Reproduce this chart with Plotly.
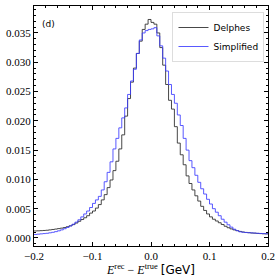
import plotly.graph_objects as go

bin_edges = [round(-0.2 + 0.005 * i, 4) for i in range(81)]

delphes = [
    0.00120, 0.00122, 0.00125, 0.00128, 0.00132, 0.00138, 0.00145, 0.00152, 0.00160, 0.00168,
    0.00178, 0.00192, 0.00208, 0.00228, 0.00255, 0.00285, 0.00315, 0.00345, 0.00380, 0.00425,
    0.00460, 0.00510, 0.00570, 0.00650, 0.00740, 0.00860, 0.00990, 0.01150, 0.01310, 0.01520,
    0.01760, 0.02080, 0.02380, 0.02660, 0.02900, 0.03150, 0.03360, 0.03560, 0.03650, 0.03730,
    0.03680, 0.03650, 0.03500, 0.03250, 0.02950, 0.02620, 0.02350, 0.02200, 0.01900, 0.01620,
    0.01420, 0.01250, 0.01060, 0.00930, 0.00820, 0.00720, 0.00630, 0.00540, 0.00470, 0.00410,
    0.00360, 0.00320, 0.00290, 0.00260, 0.00230, 0.00200, 0.00175, 0.00155, 0.00138, 0.00125,
    0.00112, 0.00102, 0.00095, 0.00090, 0.00085, 0.00082, 0.00078, 0.00075, 0.00072, 0.00070,
]

simplified = [
    0.00060, 0.00065, 0.00070, 0.00075, 0.00080, 0.00088, 0.00097, 0.00108, 0.00122, 0.00138,
    0.00158, 0.00180, 0.00205, 0.00235, 0.00270, 0.00310, 0.00360, 0.00410, 0.00460, 0.00520,
    0.00590, 0.00650, 0.00710, 0.00820, 0.00960, 0.01120, 0.01300, 0.01520, 0.01700, 0.01880,
    0.02050, 0.02220, 0.02450, 0.02680, 0.02880, 0.03150, 0.03380, 0.03500, 0.03540, 0.03560,
    0.03570, 0.03590, 0.03450, 0.03280, 0.03070, 0.02850, 0.02620, 0.02450, 0.02300, 0.02100,
    0.01920, 0.01700, 0.01500, 0.01320, 0.01200, 0.01070, 0.00950, 0.00840, 0.00750, 0.00660,
    0.00580, 0.00500, 0.00440, 0.00380, 0.00320, 0.00270, 0.00225, 0.00185, 0.00150, 0.00125,
    0.00105, 0.00098, 0.00093, 0.00090, 0.00087, 0.00084, 0.00080, 0.00077, 0.00074, 0.00072,
]

x_ticks = [-0.2, -0.1, 0.0, 0.1, 0.2]
x_tick_labels = ["−0.2", "−0.1", "0.0", "0.1", "0.2"]
y_ticks = [0.0, 0.005, 0.010, 0.015, 0.020, 0.025, 0.030, 0.035]
y_tick_labels = ["0.000", "0.005", "0.010", "0.015", "0.020", "0.025", "0.030", "0.035"]

fig = go.Figure()
fig.add_trace(go.Scatter(
    x=bin_edges, y=delphes + [delphes[-1]], mode="lines", line_shape="hv",
    line=dict(color="rgba(40,40,40,0.85)", width=1), name="Delphes"))
fig.add_trace(go.Scatter(
    x=bin_edges, y=simplified + [simplified[-1]], mode="lines", line_shape="hv",
    line=dict(color="rgba(60,60,255,0.85)", width=1), name="Simplified"))

serif = "Liberation Serif, DejaVu Serif, serif"
axis_common = dict(
    showline=True, linecolor="black", linewidth=1, mirror="allticks",
    ticks="inside", ticklen=4, tickcolor="black", showgrid=False, zeroline=False,
    tickfont=dict(family=serif, size=11, color="black"),
)

fig.update_xaxes(
    range=[-0.2, 0.2], tickvals=x_ticks, ticktext=x_tick_labels,
    minor=dict(ticks="inside", ticklen=2, dtick=0.02, tickcolor="black", showgrid=False),
    title=dict(text="<i>E</i><sup>rec</sup> − <i>E</i><sup>true</sup> <span style='font-family:DejaVu Sans'>[GeV]</span>",
               font=dict(family=serif, size=12, color="black"), standoff=2),
    **axis_common)
fig.update_yaxes(
    range=[-0.00137, 0.0396], tickvals=y_ticks, ticktext=y_tick_labels,
    minor=dict(ticks="inside", ticklen=2, dtick=0.001, tickcolor="black", showgrid=False),
    **axis_common)

fig.add_annotation(text="(d)", xref="paper", yref="paper", x=0.025, y=0.955,
                   showarrow=False, xanchor="left", yanchor="top",
                   font=dict(family="DejaVu Sans", size=9, color="black"))

fig.update_layout(
    width=280, height=280,
    margin=dict(l=34, r=12, t=6, b=34),
    plot_bgcolor="white", paper_bgcolor="white",
    showlegend=True,
    legend=dict(x=0.985, y=0.975, xanchor="right", yanchor="top",
                bgcolor="rgba(255,255,255,0.9)", bordercolor="#dddddd", borderwidth=1,
                font=dict(family="DejaVu Sans", size=9, color="black"),
                tracegroupgap=0, itemwidth=30),
)

fig.write_html("out.html", config={"displayModeBar": False},
               post_script="document.body.style.margin='0';document.body.style.padding='0';")
